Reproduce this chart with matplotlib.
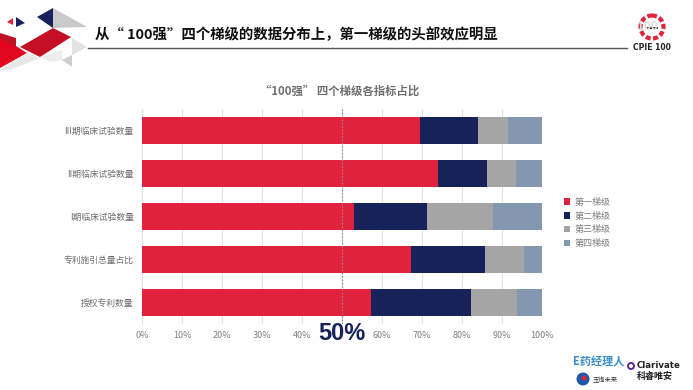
import numpy as np
import matplotlib
matplotlib.use('Agg')
import matplotlib.pyplot as plt
from matplotlib.patches import Polygon, Circle, Rectangle

plt.rcParams['font.family'] = ['Noto Sans CJK SC', 'DejaVu Sans']

categorias = ['III期临床试验数量', 'II期临床试验数量', 'I期临床试验数量', '专利施引总量占比', '授权专利数量']
niveles = ['第一梯级', '第二梯级', '第三梯级', '第四梯级']
nivel_1 = [69.4, 74.0, 53.0, 67.2, 57.2]
nivel_2 = [14.5, 12.2, 18.2, 18.5, 25.1]
nivel_3 = [7.5, 7.4, 16.6, 9.8, 11.5]
nivel_4 = [8.6, 6.4, 12.2, 4.5, 6.2]
colores = ['#E1223C', '#17215A', '#A5A5A5', '#8497B0']
ticks_x = [0, 10, 20, 30, 40, 50, 60, 70, 80, 90, 100]

W, H = 693, 390
fig = plt.figure(figsize=(W / 100, H / 100), dpi=100)

# capa de fondo en pixeles para la decoracion
bg = fig.add_axes([0, 0, 1, 1])
bg.set_xlim(0, W)
bg.set_ylim(H, 0)
bg.axis('off')

poligonos = [
    ([(53, 8), (87, 27), (53, 28)], '#C9C9C9'),
    ([(37, 17), (53, 8), (53, 28)], '#17215A'),
    ([(7, 22), (13, 18), (13, 25)], '#E1223C'),
    ([(16, 17), (25, 23), (16, 27)], '#17215A'),
    ([(53, 28), (71, 37), (40, 57), (20, 47)], '#C40F24'),
    ([(0, 33), (16, 38), (16, 46), (27, 53), (0, 40)], '#BE1226'),
    ([(0, 38), (27, 53), (0, 68)], '#E2061F'),
    ([(72, 38), (87, 47), (72, 55)], '#E3E3E3'),
    ([(62, 60), (72, 55), (72, 67)], '#CFCFCF'),
    ([(40, 57), (62, 50), (62, 60), (50, 62)], '#EDEDED'),
    ([(27, 53), (40, 58), (10, 70), (0, 70)], '#E8E8E8'),
]
for pts, c in poligonos:
    bg.add_patch(Polygon(pts, closed=True, facecolor=c, edgecolor='none'))

bg.plot([88, 627], [47.5, 47.5], color='#555555', lw=1.0)
bg.text(95, 35, '从“ 100强”四个梯级的数据分布上，第一梯级的头部效应明显', fontsize=10.4,
        fontweight='bold', color='#111111', va='center', ha='left')

# logo CPIE
bg.add_patch(Circle((652, 27), 11.5, facecolor='none', edgecolor='#E1223C', lw=3, ls=(0, (1.2, 0.6))))
bg.text(647, 27, '100', fontsize=8.5, color='#DDDDDD', fontweight='bold', ha='center', va='center')
bg.add_patch(Rectangle((647, 26.5), 11, 2, facecolor='#444444', edgecolor='none'))
bg.text(651.5, 47.5, 'CPIE 100', fontsize=5.5, color='#222222', fontweight='bold', ha='center', va='center', family='DejaVu Sans')

# logos de abajo
bg.text(599, 362, 'E药经理人', fontsize=8, color='#3C8FC8', fontweight='bold', ha='center', va='center')
bg.add_patch(Circle((583, 379), 6.5, facecolor='#1E5AA8', edgecolor='none'))
bg.add_patch(Circle((584, 378), 2.5, facecolor='#E1223C', edgecolor='none'))
bg.text(605, 380, '玉询未来', fontsize=4.5, color='#333333', ha='center', va='center')
bg.add_patch(Circle((631, 366), 3.0, facecolor='none', edgecolor='#5B2C91', lw=1.4))
bg.text(659, 366, 'Clarivate', fontsize=6.2, color='#222222', fontweight='bold', ha='center', va='center', family='DejaVu Sans')
bg.text(655, 377, '科睿唯安', fontsize=6.5, color='#222222', fontweight='bold', ha='center', va='center')

# grafico principal
ax = fig.add_axes([142 / W, 1 - 324 / H, 400 / W, 215 / H])
ax.patch.set_alpha(0)
y = np.arange(len(categorias))
series = [np.array(nivel_1), np.array(nivel_2), np.array(nivel_3), np.array(nivel_4)]
izq = np.zeros(len(categorias))
for s, nombre, c in zip(series, niveles, colores):
    ax.barh(y, s, left=izq, height=0.63, color=c, label=nombre, zorder=3)
    izq = izq + s

ax.set_ylim(len(categorias) - 0.5, -0.5)
ax.set_xlim(0, 100)
ax.set_xticks(ticks_x)
# el 50% va aparte, en grande
ax.set_xticklabels(['' if t == 50 else f'{t}%' for t in ticks_x], fontsize=6.5, color='#7F7F7F')
ax.set_yticks(y)
ax.set_yticklabels(categorias, fontsize=6.3, color='#6F6F6F')
ax.tick_params(length=0, pad=5)
ax.tick_params(axis='y', pad=6)
ax.grid(axis='x', color='#E2E2E2', lw=0.8, zorder=0)
for sp in ['top', 'right', 'bottom']:
    ax.spines[sp].set_visible(False)
ax.spines['left'].set_color('#E2E2E2')
ax.axvline(50, color='#8A8A9A', lw=0.8, ls=(0, (1.5, 1.5)), zorder=4)

ax.legend(loc='center left', bbox_to_anchor=(1.055, 0.47), frameon=False, fontsize=6.5,
          handlelength=0.7, handleheight=0.7, handletextpad=0.45, labelspacing=0.53,
          labelcolor='#7F7F7F', borderpad=0, borderaxespad=0)

bg.text(340, 91, '“100强” 四个梯级各指标占比', fontsize=8.2, fontweight='bold', color='#6F6F6F', ha='center', va='center')
bg.text(342, 333, '50%', fontsize=17, fontweight='bold', color='#17215A', ha='center', va='center',
        family=['Liberation Sans', 'DejaVu Sans'])

plt.savefig('out.png', dpi=100)
